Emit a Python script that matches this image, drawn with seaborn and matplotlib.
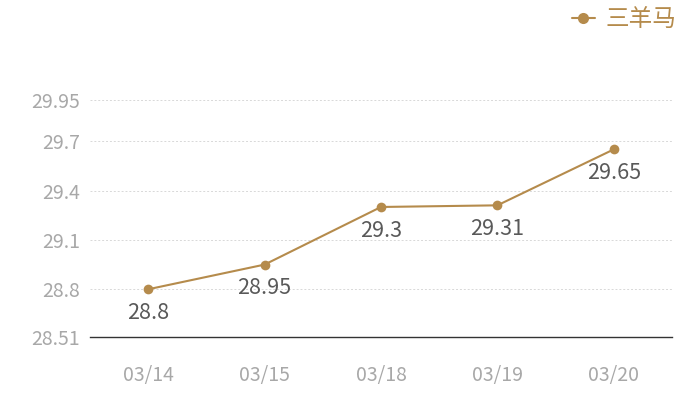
import matplotlib
matplotlib.use("Agg")
import matplotlib.pyplot as plt
import seaborn as sns
import pandas as pd
from matplotlib.lines import Line2D

dates = ["03/14", "03/15", "03/18", "03/19", "03/20"]
values = [28.8, 28.95, 29.3, 29.31, 29.65]
yticks = [28.51, 28.8, 29.1, 29.4, 29.7, 29.95]
series_name = "三羊马"

sns.set_theme(style="white")
plt.rcParams['font.family'] = ['Noto Sans CJK SC', 'DejaVu Sans']

color = "#b58b4c"
df = pd.DataFrame({"date": dates, "value": values, "series": series_name})

fig = plt.figure(figsize=(7, 4), dpi=100)
ax = fig.add_axes([90/700, 1-337/400, 582/700, 237/400])

sns.lineplot(data=df, x="date", y="value", hue="series", palette=[color], ax=ax,
             marker="o", markersize=7, markeredgewidth=0, linewidth=1.5, sort=False,
             legend=False)

ax.set_xlim(-0.5, len(dates) - 0.5)
ax.set_ylim(yticks[0], yticks[-1])
ax.set_yticks(yticks)
ax.set_yticklabels([f"{t:g}" for t in yticks])
for t in yticks[1:]:
    ax.axhline(t, color="#d8d8d8", linewidth=0.7, linestyle=(0, (2, 2)), zorder=0)

for s in ["top", "right", "left"]:
    ax.spines[s].set_visible(False)
ax.spines["bottom"].set_color("#333333")
ax.spines["bottom"].set_linewidth(1.0)
ax.tick_params(axis="both", length=0, colors="#a8a8a8", labelsize=14)
ax.tick_params(axis="y", pad=7)
ax.tick_params(axis="x", pad=20)
ax.set_xlabel("")
ax.set_ylabel("")

for i, v in enumerate(values):
    ax.annotate(f"{v:g}", (i, v), xytext=(0, -17), textcoords="offset points",
                ha="center", va="center", fontsize=15.5, color="#595959")

h = Line2D([], [], color=color, marker="o", markersize=8, markeredgewidth=0, linewidth=1.5)
fig.legend([h], [series_name], loc="upper right", bbox_to_anchor=(0.987, 1.015),
           frameon=False, fontsize=17, labelcolor=color, handlelength=1.0,
           handletextpad=0.45, borderaxespad=0.2)

fig.savefig("out.png", dpi=100)
